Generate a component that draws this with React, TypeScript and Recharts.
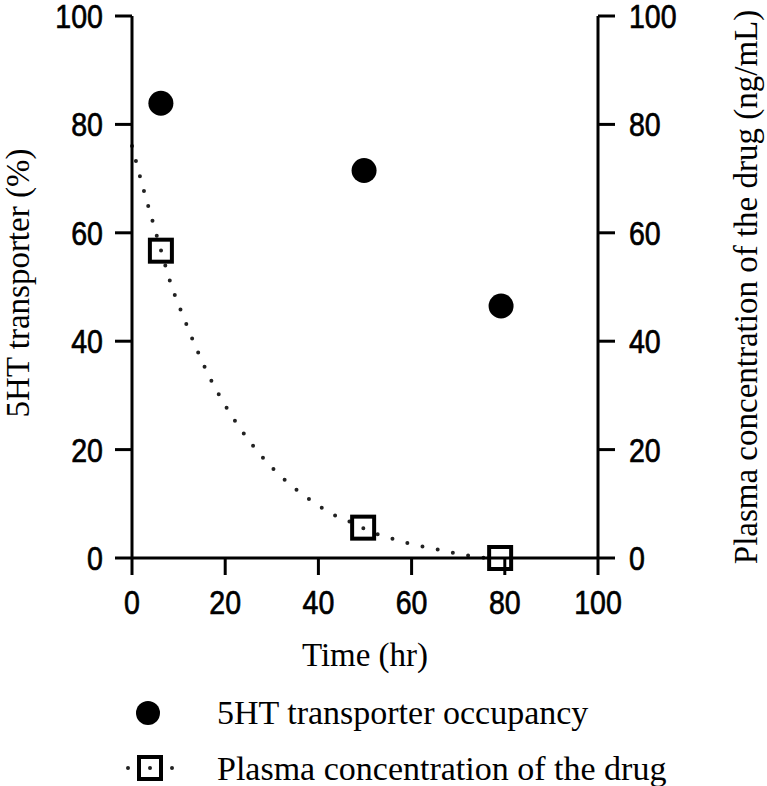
import { ComposedChart, Scatter, Line, XAxis, YAxis } from "recharts";

// time (hr) and values
const occupancyTime = [6.2, 49.8, 79.2];
const occupancyPct = [83.9, 71.5, 46.5];

const plasmaTime = [6.2, 49.6, 79];
const plasmaConc = [56.7, 5.6, 0];

// dotted fit curve
const fitTime = [0, 2.6, 4.5, 6.2, 8.4, 10.9, 13.5, 16.4, 19.7, 23.4, 27.6, 32.4, 37.8, 40.5, 43.4, 46.8, 49.6, 53, 56.1, 59.3, 62.5, 66, 69.3, 72.6, 76];
const fitConc = [76, 67.6, 61.9, 56.8, 50.4, 44.8, 39.3, 33.8, 28.6, 23.7, 19.0, 14.7, 11.0, 9.4, 7.9, 6.7, 5.5, 4.3, 3.5, 2.7, 2.1, 1.5, 0.9, 0.4, 0];

const axisTicks = [0, 20, 40, 60, 80, 100];

const occupancyData = occupancyTime.map((x, i) => ({ x, y: occupancyPct[i] }));
const plasmaData = plasmaTime.map((x, i) => ({ x, y: plasmaConc[i] }));
const fitData = fitTime.map((x, i) => ({ x, y: fitConc[i] }));

const sans = "'Liberation Sans', Arial, sans-serif";
const serif = "'Liberation Serif', 'Times New Roman', serif";
const lineStyle = { stroke: "#000", strokeWidth: 3 };

// narrow tick digits, like the original's condensed font
function NarrowTick(props: any) {
  const { x, y, payload, textAnchor, verticalAnchor } = props;
  const dy = verticalAnchor === "start" ? 24 : 12;
  return (
    <g transform={`translate(${x},${y})`}>
      <text
        transform="scale(0.84,1)"
        y={dy}
        textAnchor={textAnchor}
        fontFamily={sans}
        fontSize={34}
        fill="#000"
        stroke="#000"
        strokeWidth={0.7}
      >
        {payload.value}
      </text>
    </g>
  );
}

function DotShape(props: any) {
  return <circle cx={props.cx} cy={props.cy} r={12.5} fill="#000" />;
}

function SquareShape(props: any) {
  return <rect x={props.cx - 11} y={props.cy - 11} width={22} height={22} fill="none" stroke="#000" strokeWidth={4} />;
}

function leftTitle(props: any) {
  const vb = props.viewBox;
  const cy = vb.y + vb.height / 2 - 4;
  return (
    <text x={29} y={cy} transform={`rotate(-90 29 ${cy})`} textAnchor="middle" fontFamily={serif} fontSize={33} fill="#000">
      5HT transporter (%)
    </text>
  );
}

function rightTitle(props: any) {
  const vb = props.viewBox;
  const cy = vb.y + vb.height / 2;
  const x = vb.x + 159;
  return (
    <text x={x} y={cy} transform={`rotate(-90 ${x} ${cy})`} textAnchor="middle" fontFamily={serif} fontSize={33} fill="#000">
      Plasma concentration of the drug (ng/mL)
    </text>
  );
}

function bottomTitle(props: any) {
  const vb = props.viewBox;
  return (
    <text x={vb.x + vb.width / 2} y={vb.y + 108} textAnchor="middle" fontFamily={serif} fontSize={33} fill="#000">
      Time (hr)
    </text>
  );
}

function LegendBox() {
  return (
    <svg width={767} height={786} style={{ position: "absolute", left: 0, top: 0, pointerEvents: "none" }}>
      <circle cx={148} cy={713} r={12} fill="#000" />
      <text x={217} y={724} fontFamily={serif} fontSize={34} fill="#000">5HT transporter occupancy</text>
      <line x1={128} y1={768} x2={174} y2={768} stroke="#222" strokeWidth={4} strokeDasharray="0 22" strokeLinecap="round" />
      <rect x={139} y={757} width={22} height={22} fill="none" stroke="#000" strokeWidth={4} />
      <text x={217} y={780} fontFamily={serif} fontSize={34} fill="#000">Plasma concentration of the drug</text>
    </svg>
  );
}

export default function App() {
  return (
    <div style={{ position: "absolute", left: 0, top: 0, width: 767, height: 786, background: "#fff" }}>
      <ComposedChart width={767} height={786} margin={{ top: 16, right: 0, bottom: 168, left: 0 }}>
        <XAxis
          dataKey="x"
          type="number"
          domain={[0, 100]}
          ticks={axisTicks}
          height={60}
          tickSize={17}
          tickMargin={15}
          tick={<NarrowTick />}
          axisLine={lineStyle}
          tickLine={lineStyle}
          label={bottomTitle}
          allowDuplicatedCategory={false}
        />
        <YAxis
          yAxisId="left"
          type="number"
          domain={[0, 100]}
          ticks={axisTicks}
          width={132}
          tickSize={17}
          tickMargin={12}
          tick={<NarrowTick />}
          axisLine={lineStyle}
          tickLine={lineStyle}
          label={leftTitle}
        />
        <YAxis
          yAxisId="right"
          orientation="right"
          type="number"
          domain={[0, 100]}
          ticks={axisTicks}
          width={169}
          tickSize={17}
          tickMargin={14}
          tick={<NarrowTick />}
          axisLine={lineStyle}
          tickLine={lineStyle}
          label={rightTitle}
        />
        <Line
          yAxisId="right"
          data={fitData}
          dataKey="y"
          type="monotone"
          stroke="#222"
          strokeWidth={4}
          strokeDasharray="0 15.5"
          strokeLinecap="round"
          dot={false}
          activeDot={false}
          isAnimationActive={false}
        />
        <Scatter yAxisId="left" data={occupancyData} dataKey="y" shape={DotShape} isAnimationActive={false} />
        <Scatter yAxisId="right" data={plasmaData} dataKey="y" shape={SquareShape} isAnimationActive={false} />
      </ComposedChart>
      <LegendBox />
    </div>
  );
}
